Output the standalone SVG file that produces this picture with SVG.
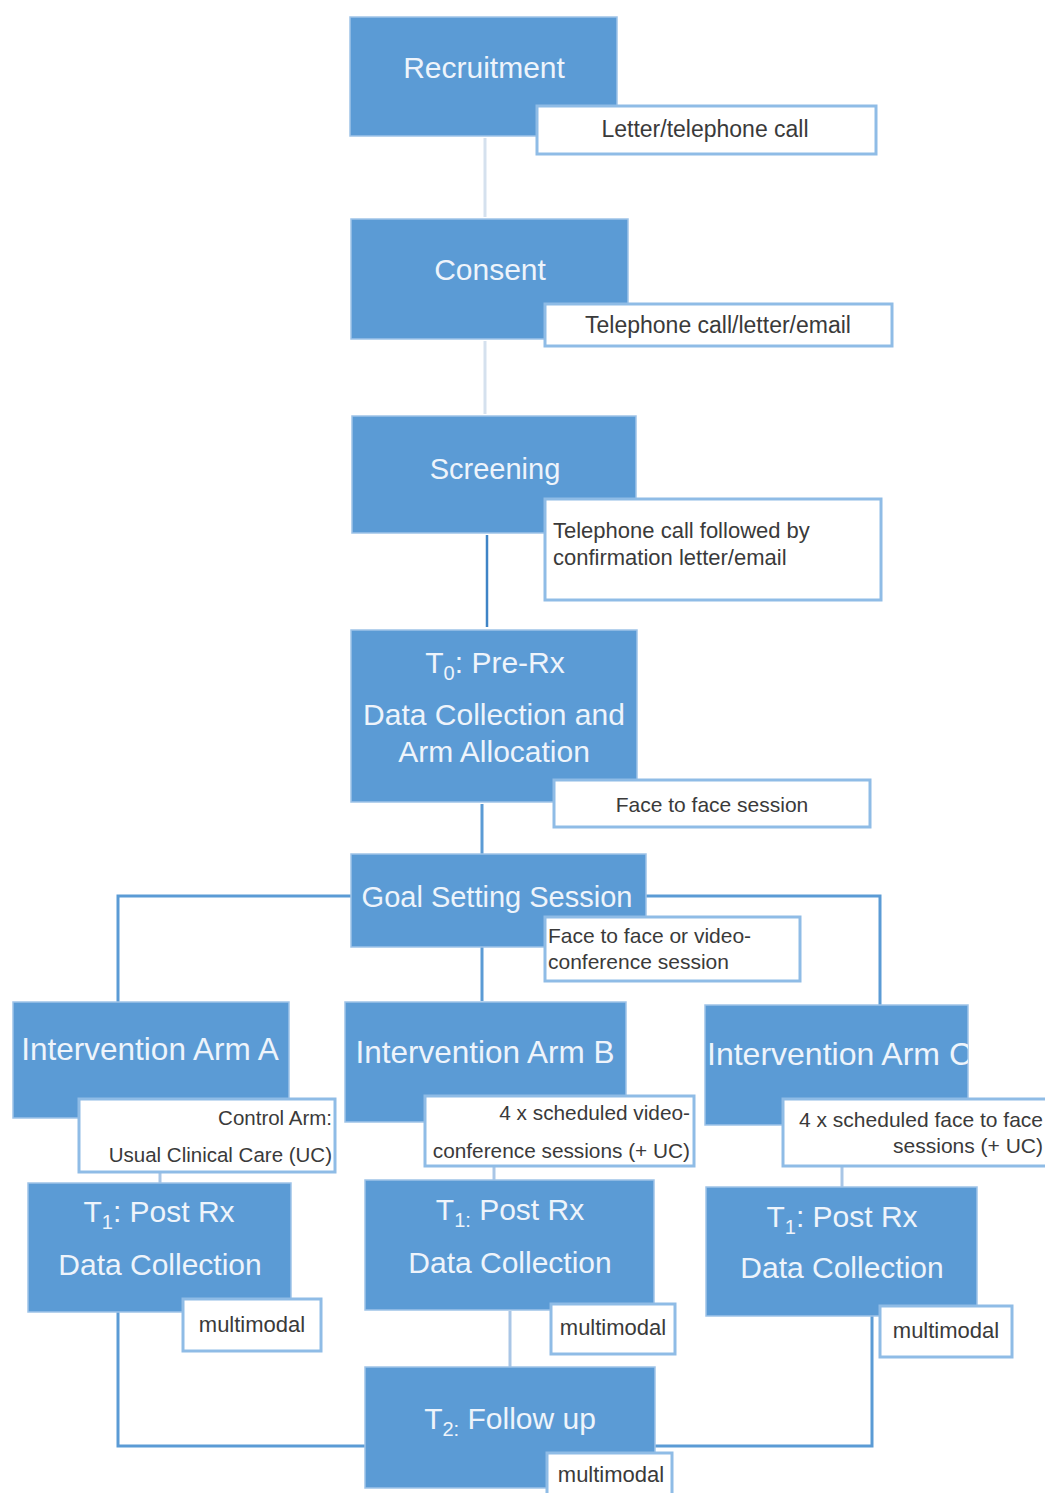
<svg xmlns="http://www.w3.org/2000/svg" width="1045" height="1493" viewBox="0 0 1045 1493">
<style>
.node{fill:#5b9bd5;stroke:#9ec3e8;stroke-width:1.5}
.lbl{fill:#ffffff;stroke:#8fbce6;stroke-width:3}
.t{font-family:"Liberation Sans",Arial,sans-serif;font-size:30px;fill:#eef4fb;text-anchor:middle}
.s{font-family:"Liberation Sans",Arial,sans-serif;font-size:22px;fill:#3a3a3a}
.c{fill:none;stroke:#5b9bd5;stroke-width:3}
.cl{fill:none;stroke:#d5e1ee;stroke-width:3}
.cm{fill:none;stroke:#a9c6e6;stroke-width:3}
</style>
<defs>
<clipPath id="clipC"><rect x="705" y="1005" width="263" height="120"/></clipPath>
</defs>
<rect width="1045" height="1493" fill="#ffffff"/>
<g id="connectors">
<path class="cl" d="M485 138V217"/>
<path class="cl" d="M485 341V414"/>
<path d="M487 535V627" fill="none" stroke="#3f84c6" stroke-width="2.5"/>
<path class="c" d="M482 804V855"/>
<path class="c" d="M351 896H118V1002"/>
<path class="c" d="M646 896H880V1005"/>
<path class="c" d="M482 947V1001"/>
<path class="cm" d="M160 1173V1183"/>
<path class="cm" d="M494 1167V1180"/>
<path class="cm" d="M842 1167V1187"/>
<path class="c" d="M118 1312V1446H366"/>
<path class="c" d="M872 1316V1446H655"/>
<path class="cm" d="M510 1311V1367"/>
</g>
<g id="recruitment">
<rect class="node" x="350" y="17" width="267" height="119"/>
<text class="t" x="484" y="78">Recruitment</text>
</g>
<g id="consent">
<rect class="node" x="351" y="219" width="277" height="120"/>
<text class="t" x="490" y="280">Consent</text>
</g>
<g id="screening">
<rect class="node" x="352" y="416" width="284" height="117"/>
<text class="t" x="495" y="479" style="font-size:29px">Screening</text>
</g>
<g id="t0">
<rect class="node" x="351" y="630" width="286" height="172"/>
<text class="t" x="495" y="673">T<tspan font-size="20" dy="7">0</tspan><tspan dy="-7">: Pre-Rx</tspan></text>
<text class="t" x="494" y="725">Data Collection and</text>
<text class="t" x="494" y="762">Arm Allocation</text>
</g>
<g id="goal">
<rect class="node" x="351" y="854" width="295" height="93"/>
<text class="t" x="497" y="907" style="font-size:29px">Goal Setting Session</text>
</g>
<g id="armA">
<rect class="node" x="13" y="1002" width="276" height="116"/>
<text class="t" x="150" y="1060" style="font-size:31.5px">Intervention Arm A</text>
</g>
<g id="armB">
<rect class="node" x="345" y="1002" width="281" height="120"/>
<text class="t" x="485" y="1063" style="font-size:31.5px">Intervention Arm B</text>
</g>
<g id="armC">
<rect class="node" x="705" y="1005" width="263" height="120"/>
<text class="t" x="707" y="1065" clip-path="url(#clipC)" style="text-anchor:start;font-size:32px">Intervention Arm C</text>
</g>
<g id="t1A">
<rect class="node" x="28" y="1183" width="263" height="129"/>
<text class="t" x="159" y="1222">T<tspan font-size="20" dy="7">1</tspan><tspan dy="-7">: Post Rx</tspan></text>
<text class="t" x="160" y="1275">Data Collection</text>
</g>
<g id="t1B">
<rect class="node" x="365" y="1180" width="289" height="130"/>
<text class="t" x="510" y="1220">T<tspan font-size="20" dy="7">1:</tspan><tspan dy="-7"> Post Rx</tspan></text>
<text class="t" x="510" y="1273">Data Collection</text>
</g>
<g id="t1C">
<rect class="node" x="706" y="1187" width="271" height="129"/>
<text class="t" x="842" y="1227">T<tspan font-size="20" dy="7">1</tspan><tspan dy="-7">: Post Rx</tspan></text>
<text class="t" x="842" y="1278">Data Collection</text>
</g>
<g id="t2">
<rect class="node" x="365" y="1367" width="290" height="121"/>
<text class="t" x="510" y="1429">T<tspan font-size="20" dy="7">2:</tspan><tspan dy="-7"> Follow up</tspan></text>
</g>
<g id="label-recruitment">
<rect class="lbl" x="537" y="106" width="339" height="48"/>
<text class="s" x="705" y="137" style="font-size:23px;text-anchor:middle">Letter/telephone call</text>
</g>
<g id="label-consent">
<rect class="lbl" x="545" y="304" width="347" height="42"/>
<text class="s" x="718" y="333" style="font-size:23px;text-anchor:middle">Telephone call/letter/email</text>
</g>
<g id="label-screening">
<rect class="lbl" x="545" y="499" width="336" height="101"/>
<text class="s" x="553" y="538">Telephone call followed by</text>
<text class="s" x="553" y="565">confirmation letter/email</text>
</g>
<g id="label-t0">
<rect class="lbl" x="554" y="780" width="316" height="47"/>
<text class="s" x="712" y="812" style="font-size:21px;text-anchor:middle">Face to face session</text>
</g>
<g id="label-goal">
<rect class="lbl" x="545" y="917" width="255" height="64"/>
<text class="s" x="548" y="943" style="font-size:21px">Face to face or video-</text>
<text class="s" x="548" y="969" style="font-size:21px">conference session</text>
</g>
<g id="label-armA">
<rect class="lbl" x="79" y="1099" width="256" height="73"/>
<text class="s" x="332" y="1125" style="font-size:20.5px;text-anchor:end">Control Arm:</text>
<text class="s" x="332" y="1162" style="font-size:20.5px;text-anchor:end">Usual Clinical Care (UC)</text>
</g>
<g id="label-armB">
<rect class="lbl" x="425" y="1096" width="269" height="70"/>
<text class="s" x="690" y="1120" style="font-size:20.8px;text-anchor:end">4 x scheduled video-</text>
<text class="s" x="690" y="1158" style="font-size:20.8px;text-anchor:end">conference sessions (+ UC)</text>
</g>
<g id="label-armC">
<rect class="lbl" x="783" y="1099" width="264" height="67"/>
<text class="s" x="1043" y="1127" style="font-size:21px;text-anchor:end">4 x scheduled face to face</text>
<text class="s" x="1043" y="1153" style="font-size:21px;text-anchor:end">sessions (+ UC)</text>
</g>
<g id="label-t1A">
<rect class="lbl" x="183" y="1299" width="138" height="52"/>
<text class="s" x="252" y="1332" style="text-anchor:middle">multimodal</text>
</g>
<g id="label-t1B">
<rect class="lbl" x="551" y="1304" width="124" height="50"/>
<text class="s" x="613" y="1335" style="text-anchor:middle">multimodal</text>
</g>
<g id="label-t1C">
<rect class="lbl" x="880" y="1306" width="132" height="51"/>
<text class="s" x="946" y="1338" style="text-anchor:middle">multimodal</text>
</g>
<g id="label-t2">
<rect class="lbl" x="547" y="1453" width="125" height="44"/>
<text class="s" x="611" y="1482" style="text-anchor:middle">multimodal</text>
</g>
</svg>
